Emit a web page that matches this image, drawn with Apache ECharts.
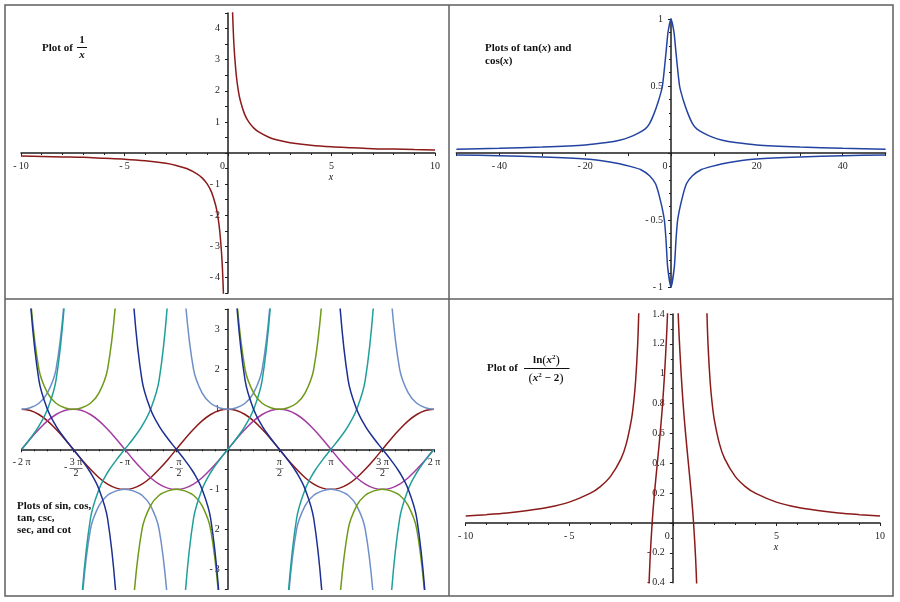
<!DOCTYPE html>
<html><head><meta charset="utf-8">
<script src="https://cdn.jsdelivr.net/npm/echarts@6/dist/echarts.min.js"></script>
<style>html,body{margin:0;padding:0;background:#fff}#c{width:900px;height:602px}</style>
</head><body><div id="c"></div>
<script>
// ---------- Panel 1 : 1/x ----------
const p1NegX = [-10,-9,-8,-7,-6,-5,-4,-3,-2.5,-2,-1.5,-1.25,-1,-0.8,-0.6,-0.5,-0.4,-0.3,-0.25,-0.22];
const p1NegY = [-0.1,-0.11,-0.125,-0.14,-0.17,-0.2,-0.25,-0.33,-0.4,-0.5,-0.67,-0.8,-1,-1.25,-1.67,-2,-2.5,-3.33,-4,-4.55];
const p1PosX = [0.22,0.25,0.3,0.4,0.5,0.6,0.8,1,1.25,1.5,2,2.5,3,4,5,6,7,8,9,10];
const p1PosY = [4.55,4,3.33,2.5,2,1.67,1.25,1,0.8,0.67,0.5,0.4,0.33,0.25,0.2,0.17,0.14,0.125,0.11,0.1];

// ---------- Panel 2 : "tan(x) and cos(x)" ----------
const p2UpX = [-50,-40,-30,-20,-15,-12,-9.5,-7.5,-6,-5,-4,-3,-2,-1.1,-0.7,0,0.7,1.1,2,3,4,5,6,7.5,9.5,12,15,20,30,40,50];
const p2UpY = [0.028,0.035,0.045,0.06,0.078,0.095,0.12,0.15,0.18,0.22,0.29,0.38,0.5,0.77,0.9,1,0.9,0.77,0.5,0.38,0.29,0.22,0.18,0.15,0.12,0.095,0.078,0.06,0.045,0.035,0.028];
const p2LoX = [-50,-40,-30,-20,-15,-12,-9.5,-7,-5,-3.6,-2.5,-1.55,-1.16,-0.78,0,0.78,1.16,1.55,2.5,3.6,5,7,9.5,12,15,20,30,40,50];
const p2LoY = [-0.015,-0.02,-0.03,-0.045,-0.063,-0.08,-0.1,-0.125,-0.17,-0.23,-0.35,-0.5,-0.65,-0.85,-1,-0.85,-0.65,-0.5,-0.35,-0.23,-0.17,-0.125,-0.1,-0.08,-0.063,-0.045,-0.03,-0.02,-0.015];

// ---------- Panel 3 : trig functions (x in multiples of pi) ----------
const p3X = [-2,-1.917,-1.833,-1.75,-1.667,-1.583,-1.5,-1.417,-1.333,-1.25,-1.167,-1.083,-1,-0.917,-0.833,-0.75,-0.667,-0.583,-0.5,-0.417,-0.333,-0.25,-0.167,-0.083,0,0.083,0.167,0.25,0.333,0.417,0.5,0.583,0.667,0.75,0.833,0.917,1,1.083,1.167,1.25,1.333,1.417,1.5,1.583,1.667,1.75,1.833,1.917,2];
const sinY = [0,.26,.5,.71,.87,.97,1,.97,.87,.71,.5,.26,0,-.26,-.5,-.71,-.87,-.97,-1,-.97,-.87,-.71,-.5,-.26,0,.26,.5,.71,.87,.97,1,.97,.87,.71,.5,.26,0,-.26,-.5,-.71,-.87,-.97,-1,-.97,-.87,-.71,-.5,-.26,0];
const cosY = [1,.97,.87,.71,.5,.26,0,-.26,-.5,-.71,-.87,-.97,-1,-.97,-.87,-.71,-.5,-.26,0,.26,.5,.71,.87,.97,1,.97,.87,.71,.5,.26,0,-.26,-.5,-.71,-.87,-.97,-1,-.97,-.87,-.71,-.5,-.26,0,.26,.5,.71,.87,.97,1];
const tanY = [0,.27,.58,1,1.73,3.73,null,-3.73,-1.73,-1,-.58,-.27,0,.27,.58,1,1.73,3.73,null,-3.73,-1.73,-1,-.58,-.27,0,.27,.58,1,1.73,3.73,null,-3.73,-1.73,-1,-.58,-.27,0,.27,.58,1,1.73,3.73,null,-3.73,-1.73,-1,-.58,-.27,0];
const secY = [1,1.04,1.15,1.41,2,3.86,null,-3.86,-2,-1.41,-1.15,-1.04,-1,-1.04,-1.15,-1.41,-2,-3.86,null,3.86,2,1.41,1.15,1.04,1,1.04,1.15,1.41,2,3.86,null,-3.86,-2,-1.41,-1.15,-1.04,-1,-1.04,-1.15,-1.41,-2,-3.86,null,3.86,2,1.41,1.15,1.04,1];
const cscY = [null,3.86,2,1.41,1.15,1.04,1,1.04,1.15,1.41,2,3.86,null,-3.86,-2,-1.41,-1.15,-1.04,-1,-1.04,-1.15,-1.41,-2,-3.86,null,3.86,2,1.41,1.15,1.04,1,1.04,1.15,1.41,2,3.86,null,-3.86,-2,-1.41,-1.15,-1.04,-1,-1.04,-1.15,-1.41,-2,-3.86,null];
const cotY = [null,3.73,1.73,1,.58,.27,0,-.27,-.58,-1,-1.73,-3.73,null,3.73,1.73,1,.58,.27,0,-.27,-.58,-1,-1.73,-3.73,null,3.73,1.73,1,.58,.27,0,-.27,-.58,-1,-1.73,-3.73,null,3.73,1.73,1,.58,.27,0,-.27,-.58,-1,-1.73,-3.73,null];

// ---------- Panel 4 : ln(x^2)/(x^2-2) ----------
const p4LeftX = [-10,-9,-8,-7,-6,-5,-4,-3.5,-3,-2.5,-2.25,-2,-1.9,-1.8,-1.7,-1.64];
const p4LeftY = [0.047,0.056,0.067,0.083,0.105,0.14,0.198,0.244,0.314,0.431,0.53,0.693,0.797,0.948,1.19,1.435];
const p4InLX = [-0.25,-0.3,-0.4,-0.5,-0.6,-0.75,-0.9,-1,-1.1,-1.16];
const p4InLY = [1.43,1.26,1.0,0.79,0.62,0.4,0.18,0,-0.24,-0.45];
const p4InRX = [0.25,0.3,0.4,0.5,0.6,0.75,0.9,1,1.1,1.16];
const p4InRY = [1.43,1.26,1.0,0.79,0.62,0.4,0.18,0,-0.24,-0.45];
const p4RightX = [1.64,1.7,1.8,1.9,2,2.25,2.5,3,3.5,4,5,6,7,8,9,10];
const p4RightY = [1.435,1.19,0.948,0.797,0.693,0.53,0.431,0.314,0.244,0.198,0.14,0.105,0.083,0.067,0.056,0.047];

// ---------- styling ----------
const FONT = 'Liberation Serif';
const INK = '#1e1e1e';
const RED = '#8b1a1a';
const BLUE = '#2343a0';
const C_SIN = '#a33ca3', C_COS = '#8b1a1a', C_TAN = '#1f9e9a', C_CSC = '#6f9a18', C_SEC = '#6f8fc8', C_COT = '#1c2f92';

function neg(v) {
  const s = String(+Math.abs(v).toFixed(2));
  return v < 0 ? '-\u2009' + s : s;
}
const isInt = v => Math.abs(v - Math.round(v)) < 1e-6;
const zeroRich = pad => ({ z: { fontFamily: FONT, fontSize: 10, color: INK, padding: [0, pad, 0, 0] } });

// grid layouts (pixel boxes of each panel's plot area)
const grids = [
  { left: 21, top: 13, width: 414, height: 280 },
  { left: 456.4, top: 19, width: 429.2, height: 268 },
  { left: 21.7, top: 309.3, width: 412.3, height: 280 },
  { left: 465.7, top: 314, width: 414.3, height: 268.7 }
];
const xRanges = [[-10, 10], [-50, 50], [-2, 2], [-10, 10]];
const yRanges = [[-4.5, 4.5], [-1, 1], [-3.5, 3.5], [-0.4, 1.4]];

// offsets that place each axis through the other axis' zero
function xOffset(gi) { // x axis at bottom, move up to y=0
  const [a, b] = yRanges[gi];
  return -grids[gi].height * (0 - a) / (b - a);
}
function yOffset(gi) { // y axis at left, move right to x=0
  const [a, b] = xRanges[gi];
  return -grids[gi].width * (0 - a) / (b - a);
}

function axis(gi, isX, interval, minorSplit, formatter, rich) {
  const r = isX ? xRanges[gi] : yRanges[gi];
  const a = {
    type: 'value', gridIndex: gi, min: r[0], max: r[1], interval,
    position: isX ? 'bottom' : 'left',
    offset: isX ? xOffset(gi) : yOffset(gi),
    axisLine: { show: true, onZero: false, lineStyle: { color: INK, width: 1.5 } },
    axisTick: { show: true, length: 3, lineStyle: { color: INK, width: 1 } },
    minorTick: { show: !!minorSplit, splitNumber: minorSplit || 5, length: 2, lineStyle: { color: INK, width: 1 } },
    splitLine: { show: false }, minorSplitLine: { show: false },
    axisLabel: { show: true, fontFamily: FONT, fontSize: 10, color: INK, margin: 8, formatter, showMinLabel: true, showMaxLabel: true, hideOverlap: false }
  };
  if (rich) a.axisLabel.rich = rich;
  return a;
}

function line(xs, ys, color, gi, smooth) {
  return {
    type: 'line', xAxisIndex: gi, yAxisIndex: gi,
    data: xs.map((x, i) => [x, ys[i] === null ? '-' : ys[i]]),
    showSymbol: false, symbol: 'none', smooth: smooth === undefined ? 0.3 : smooth,
    connectNulls: false, clip: true, silent: true, animation: false,
    lineStyle: { color, width: 1.5 }, itemStyle: { color }, z: 3
  };
}

// panel 3 pi labels
const p3Rich = {
  n: { fontFamily: FONT, fontSize: 10, color: INK, lineHeight: 9 },
  h: { fontFamily: FONT, fontSize: 10, color: 'rgba(0,0,0,0)', lineHeight: 1 },
  m: { fontFamily: FONT, fontSize: 10, color: INK, lineHeight: 1 },
  bar: { fontFamily: FONT, fontSize: 13, color: INK, lineHeight: 1 },
  bs: { fontFamily: FONT, fontSize: 8, color: INK, lineHeight: 1 },
  d: { fontFamily: FONT, fontSize: 10, color: INK, lineHeight: 10 }
};
function piLabel(v) {
  const k = Math.round(v * 2);
  switch (k) {
    case -4: return '{n|-\u20092 π}';
    case -3: return '{h|-\u2009}{n|3 π}\n{m|-\u2009}{bar|—}\n{h|-\u2009}{d|2}';
    case -2: return '{n|-\u2009π}';
    case -1: return '{h|-\u2009}{n|π}\n{m|-\u2009}{bs|—}\n{h|-\u2009}{d|2}';
    case 1: return '{n|π}\n{bs|—}\n{d|2}';
    case 2: return '{n|π}';
    case 3: return '{n|3 π}\n{bar|—}\n{d|2}';
    case 4: return '{n|2 π}';
    default: return '';
  }
}

const xAxes = [
  axis(0, true, 5, 5, v => v === 0 ? '{z|0}' : neg(v), zeroRich(11)),
  axis(1, true, 10, 0, v => v === 0 ? '{z|0}' : (Math.round(v) % 20 === 0 ? neg(v) : ''), zeroRich(12)),
  axis(2, true, 0.5, 4, piLabel, p3Rich),
  axis(3, true, 5, 5, v => v === 0 ? '{z|0}' : neg(v), zeroRich(11))
];
xAxes[2].axisLabel.margin = 9;
const yAxes = [
  axis(0, false, 0.5, 0, v => (isInt(v) && Math.round(v) !== 0) ? neg(Math.round(v)) : ''),
  axis(1, false, 0.5, 5, v => Math.abs(v) < 1e-9 ? '' : neg(v)),
  axis(2, false, 0.5, 0, v => (isInt(v) && Math.round(v) !== 0) ? neg(Math.round(v)) : ''),
  axis(3, false, 0.2, 2, v => Math.abs(v) < 1e-9 ? '' : neg(v))
];

const series = [
  line(p1NegX, p1NegY, RED, 0), line(p1PosX, p1PosY, RED, 0),
  line(p2UpX, p2UpY, BLUE, 1, 0.2), line(p2LoX, p2LoY, BLUE, 1, 0.2),
  line(p3X, cosY, C_COS, 2, 0.4), line(p3X, sinY, C_SIN, 2, 0.4),
  line(p3X, secY, C_SEC, 2, 0.4), line(p3X, cscY, C_CSC, 2, 0.4),
  line(p3X, tanY, C_TAN, 2, 0.4), line(p3X, cotY, C_COT, 2, 0.4),
  line(p4LeftX, p4LeftY, RED, 3), line(p4InLX, p4InLY, RED, 3),
  line(p4InRX, p4InRY, RED, 3), line(p4RightX, p4RightY, RED, 3)
];

const TB = 'bold 11px "Liberation Serif"';
const TI = 'italic bold 11px "Liberation Serif"';
function txt(x, y, text, font, align, valign, extra) {
  return { type: 'text', x, y, z: 10, silent: true,
    style: Object.assign({ text, font, fill: '#111', align: align || 'left', textAlign: align || 'left',
      verticalAlign: valign || 'middle', textVerticalAlign: valign || 'middle' }, extra || {}) };
}
function hline(x1, x2, y) {
  return { type: 'line', z: 10, silent: true, shape: { x1, y1: y, x2, y2: y }, style: { stroke: '#111', lineWidth: 1 } };
}
const richBase = {
  b: { font: TB, fill: '#111' },
  i: { font: TI, fill: '#111' },
  p: { font: '13px "Liberation Serif"', fill: '#111' },
  s: { font: 'bold 7px "Liberation Serif"', fill: '#111', verticalAlign: 'top', lineHeight: 9 }
};

const graphic = [
  { type: 'rect', silent: true, z: 0, shape: { x: 5, y: 5, width: 888, height: 591 }, style: { fill: 'none', stroke: '#5f5f5f', lineWidth: 1.5 } },
  { type: 'line', silent: true, z: 0, shape: { x1: 449, y1: 5, x2: 449, y2: 596 }, style: { stroke: '#5f5f5f', lineWidth: 1.5 } },
  { type: 'line', silent: true, z: 0, shape: { x1: 5, y1: 299, x2: 893, y2: 299 }, style: { stroke: '#5f5f5f', lineWidth: 1.5 } },
  // panel 1 title
  txt(42, 48, 'Plot of', TB),
  txt(82, 40.5, '1', TB, 'center'),
  hline(77, 87, 47.5),
  txt(82, 55.5, 'x', TI, 'center'),
  // axis names
  txt(331, 177, 'x', 'italic 10px "Liberation Serif"', 'center'),
  txt(776, 547, 'x', 'italic 10px "Liberation Serif"', 'center'),
  // panel 2 title
  txt(485, 41.5, '{b|Plots of tan(}{i|x}{b|) and}\n{b|cos(}{i|x}{b|)}', TB, 'left', 'top', { lineHeight: 13.4, rich: {
    b: { font: TB, fill: '#111', lineHeight: 13.4 }, i: { font: TI, fill: '#111', lineHeight: 13.4 } } }),
  // panel 3 title
  txt(17, 500, 'Plots of sin, cos,\ntan, csc,\nsec, and cot', TB, 'left', 'top', { lineHeight: 12 }),
  // panel 4 title
  txt(487, 368.3, 'Plot of', TB),
  txt(546.5, 360.5, '{b|ln}{p|(}{i|x}{s|2}{p|)}', TB, 'center', 'middle', { rich: richBase }),
  hline(524, 569.5, 368.5),
  txt(546, 378.5, '{p|(}{i|x}{s|2}{b| − 2}{p|)}', TB, 'center', 'middle', { rich: richBase })
];

const chart = echarts.init(document.getElementById('c'), null, { renderer: 'canvas' });
chart.setOption({
  animation: false,
  backgroundColor: '#fff',
  grid: grids.map(g => Object.assign({ containLabel: false, outerBoundsMode: 'none', show: false }, g)),
  xAxis: xAxes,
  yAxis: yAxes,
  series,
  graphic
});
</script></body></html>
